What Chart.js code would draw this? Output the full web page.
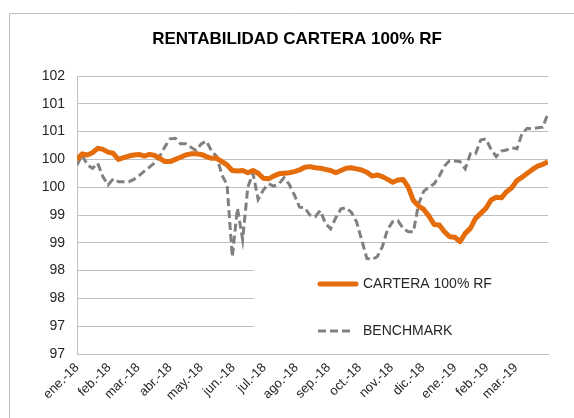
<!DOCTYPE html>
<html>
<head>
<meta charset="utf-8">
<script src="https://cdn.jsdelivr.net/npm/chart.js@4/dist/chart.umd.min.js"></script>
<style>
  html, body { margin: 0; padding: 0; background: #fff; }
  #wrap { width: 574px; height: 418px; }
</style>
</head>
<body>
<div id="wrap"><canvas id="grafico" width="574" height="418"></canvas></div>
<script>
// meses del eje x (dia desde 1-ene-18)
var meses = ['ene.-18','feb.-18','mar.-18','abr.-18','may.-18','jun.-18','jul.-18','ago.-18',
             'sep.-18','oct.-18','nov.-18','dic.-18','ene.-19','feb.-19','mar.-19'];
var mesDia = [0,31,59,90,120,151,181,212,243,273,304,334,365,396,424];

// etiquetas del eje y (formato sin decimales, como en el excel)
var yEtiquetas = ['97','97','98','98','99','99','100','100','101','101','102'];

var titulo = 'RENTABILIDAD CARTERA 100% RF';

// dias de cada observacion
var dias = [0,5,10,15,20,25,30,35,40,45,50,55,60,65,70,75,80,85,90,95,
            100,105,110,115,120,125,130,135,140,145,150,155,160,165,170,175,180,185,190,195,
            200,205,210,215,220,225,230,235,240,245,250,255,260,265,270,275,280,285,290,295,
            300,305,310,315,320,325,330,335,340,345,350,355,360,365,370,375,380,385,390,395,
            400,405,410,415,420,425,430,435,440,445,450,455];

var cartera = [100.50,100.60,100.58,100.62,100.70,100.68,100.63,100.61,100.50,100.53,
               100.56,100.58,100.59,100.56,100.59,100.57,100.52,100.46,100.46,100.50,
               100.54,100.58,100.60,100.60,100.59,100.55,100.52,100.52,100.46,100.40,
               100.30,100.29,100.30,100.26,100.30,100.25,100.16,100.15,100.20,100.24,
               100.25,100.26,100.28,100.31,100.36,100.37,100.35,100.34,100.32,100.30,
               100.26,100.30,100.34,100.35,100.33,100.31,100.27,100.20,100.22,100.19,
               100.14,100.09,100.13,100.14,100.00,99.76,99.66,99.60,99.48,99.33,
               99.32,99.20,99.11,99.10,99.02,99.17,99.26,99.44,99.53,99.62,
               99.77,99.82,99.81,99.92,99.99,100.12,100.18,100.25,100.32,100.38,
               100.41,100.46];

var benchmark = [100.40,100.58,100.40,100.34,100.43,100.19,100.04,100.15,100.10,100.10,
                 100.10,100.14,100.21,100.29,100.36,100.44,100.56,100.73,100.87,100.88,
                 100.78,100.78,100.72,100.66,100.78,100.83,100.65,100.55,100.22,100.04,
                 98.75,99.62,99.06,100.00,100.25,99.78,99.95,100.06,100.02,100.06,
                 100.17,100.05,99.86,99.64,99.63,99.50,99.47,99.58,99.35,99.25,
                 99.45,99.61,99.63,99.55,99.38,99.05,98.72,98.70,98.75,98.93,
                 99.24,99.38,99.40,99.26,99.20,99.20,99.70,99.93,100.00,100.06,
                 100.20,100.38,100.48,100.47,100.46,100.33,100.60,100.60,100.85,100.87,
                 100.68,100.55,100.65,100.67,100.71,100.69,100.97,101.06,101.05,101.07,
                 101.08,101.33];

var naranja = '#E46C0A';
var gris = '#808080';
var rejilla = '#C0C0C0';
var texto = '#262626';
var fuente = "'Liberation Sans', Arial, sans-serif";

function serie(valores) {
  var out = [];
  for (var i in dias) {
    out.push({ x: dias[i], y: valores[i] });
  }
  return out;
}

// borde, titulo y leyenda dentro del area de trazado
var extras = {
  id: 'extras',
  beforeDraw: function(chart) {
    var ctx = chart.ctx;
    ctx.save();
    ctx.strokeStyle = '#BFBFBF';
    ctx.lineWidth = 1;
    ctx.beginPath();
    ctx.moveTo(9.5, 418);
    ctx.lineTo(9.5, 13.5);
    ctx.lineTo(574, 13.5);
    ctx.stroke();
    // titulo (en excel va centrado en el area del grafico, no en el lienzo)
    ctx.font = 'bold 17px ' + fuente;
    ctx.fillStyle = '#000';
    ctx.textAlign = 'center';
    ctx.textBaseline = 'middle';
    ctx.fillText(titulo, 297, 39);
    ctx.restore();
  },
  afterDatasetsDraw: function(chart) {
    var ctx = chart.ctx;
    var area = chart.chartArea;
    var x0 = 254, y0 = 266;
    ctx.save();
    ctx.fillStyle = '#fff';
    ctx.fillRect(x0, y0, area.right - x0 + 1, area.bottom - y0 - 3);
    ctx.font = '14px ' + fuente;
    ctx.fillStyle = texto;
    ctx.textBaseline = 'middle';
    var items = chart.data.datasets;
    var ys = [284, 331];
    for (var i = 0; i < items.length; i++) {
      ctx.beginPath();
      ctx.strokeStyle = items[i].borderColor;
      ctx.lineWidth = items[i].borderWidth;
      ctx.lineCap = i === 0 ? 'round' : 'butt';
      ctx.setLineDash(items[i].borderDash || []);
      ctx.moveTo(i === 0 ? 320 : 318, ys[i]);
      ctx.lineTo(i === 0 ? 356 : 354, ys[i]);
      ctx.stroke();
      ctx.setLineDash([]);
      ctx.fillText(items[i].label, 363, ys[i]);
    }
    ctx.restore();
  }
};

var grafico = new Chart(document.getElementById('grafico'), {
  type: 'line',
  data: {
    datasets: [
      {
        label: 'CARTERA 100% RF',
        data: serie(cartera),
        borderColor: naranja,
        borderWidth: 5,
        borderJoinStyle: 'round',
        pointRadius: 0,
        tension: 0,
        fill: false
      },
      {
        label: 'BENCHMARK',
        data: serie(benchmark),
        borderColor: gris,
        borderWidth: 3,
        borderDash: [8, 4],
        pointRadius: 0,
        tension: 0,
        fill: false
      }
    ]
  },
  options: {
    responsive: false,
    animation: false,
    layout: { padding: { left: 10, right: 26, top: 76, bottom: 0 } },
    plugins: {
      legend: { display: false },
      tooltip: { enabled: false },
      title: { display: false }
    },
    scales: {
      x: {
        type: 'linear',
        min: 0,
        max: 455,
        afterBuildTicks: function(scale) {
          scale.ticks = mesDia.map(function(d) { return { value: d }; });
        },
        afterFit: function(scale) { scale.height = 64; },
        grid: { display: false, drawTicks: false },
        border: { display: true, color: rejilla, width: 1 },
        ticks: {
          autoSkip: false,
          minRotation: 45,
          maxRotation: 45,
          padding: 6,
          color: texto,
          font: { family: fuente, size: 13 },
          callback: function(v, i) { return meses[i]; }
        }
      },
      y: {
        min: 97,
        max: 102,
        afterFit: function(scale) { scale.width = 67; },
        grid: { color: rejilla, drawTicks: false, lineWidth: 1 },
        border: { display: true, color: rejilla, width: 1 },
        ticks: {
          stepSize: 0.5,
          padding: 12,
          color: texto,
          font: { family: fuente, size: 14 },
          callback: function(v, i) { return yEtiquetas[i]; }
        }
      }
    }
  },
  plugins: [extras]
});
</script>
</body>
</html>
